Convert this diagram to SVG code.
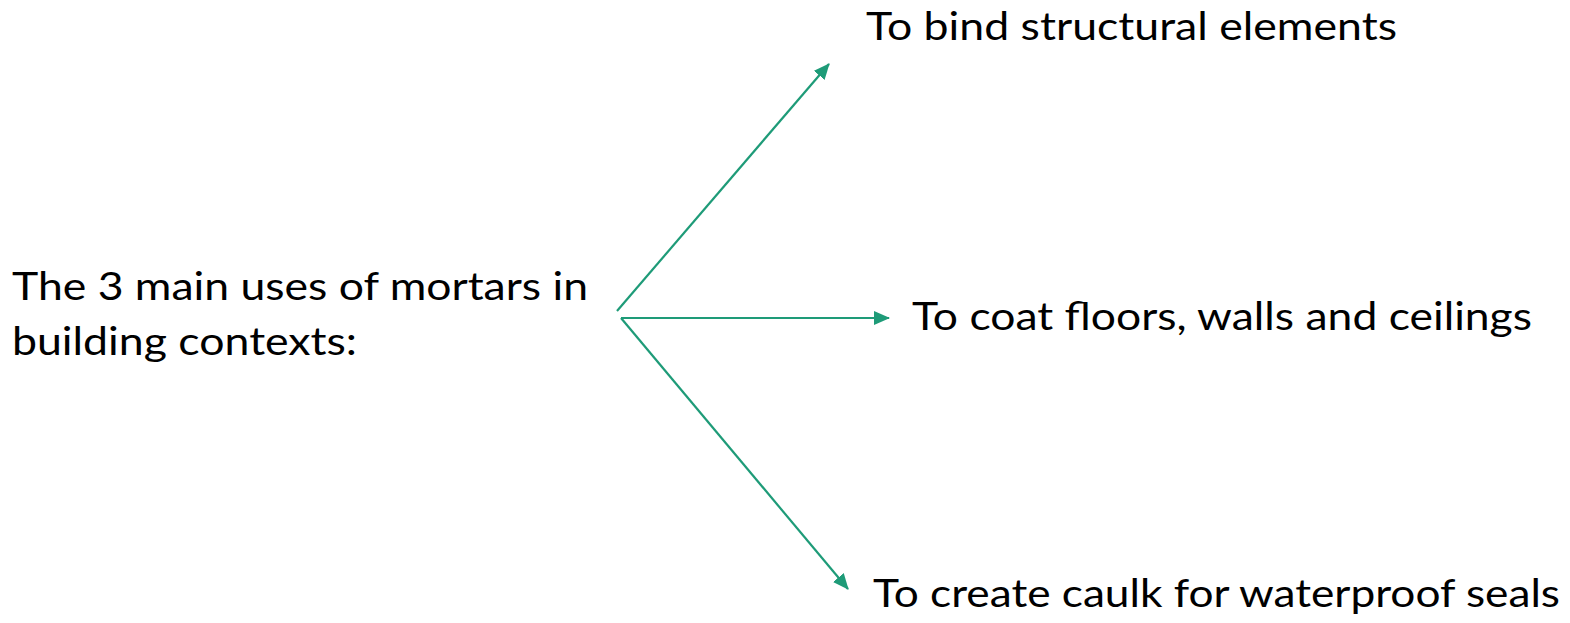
<svg xmlns="http://www.w3.org/2000/svg" width="1570" height="623" viewBox="0 0 1570 623">
  <style>
    .label { font-family: Lato, "Open Sans", "Liberation Sans", sans-serif; font-size: 39px; fill: #000; }
    .link { stroke: #1E9B78; stroke-width: 2.2; fill: none; marker-end: url(#head); }
  </style>
  <defs>
    <marker id="head" markerUnits="userSpaceOnUse" viewBox="0 0 16 14" refX="15" refY="7" markerWidth="16" markerHeight="14" orient="auto">
      <path d="M0,0 L16,7 L0,14 Z" fill="#1E9B78"/>
    </marker>
  </defs>
  <rect width="1570" height="623" fill="#fff"/>

  <g id="source">
    <text class="label" x="12" y="300" textLength="576" lengthAdjust="spacingAndGlyphs">The 3 main uses of mortars in</text>
    <text class="label" x="12" y="355" textLength="345" lengthAdjust="spacingAndGlyphs">building contexts:</text>
  </g>

  <g id="connectors">
    <line class="link" x1="617" y1="311" x2="829" y2="64"/>
    <line class="link" x1="621" y1="318" x2="889" y2="318"/>
    <line class="link" x1="621" y1="318" x2="848" y2="589"/>
  </g>

  <g id="bind">
    <text class="label" x="866" y="40" textLength="531" lengthAdjust="spacingAndGlyphs">To bind structural elements</text>
  </g>
  <g id="coat">
    <text class="label" x="912" y="330" textLength="620" lengthAdjust="spacingAndGlyphs">To coat floors, walls and ceilings</text>
  </g>
  <g id="caulk">
    <text class="label" x="873" y="607" textLength="687" lengthAdjust="spacingAndGlyphs">To create caulk for waterproof seals</text>
  </g>
</svg>
